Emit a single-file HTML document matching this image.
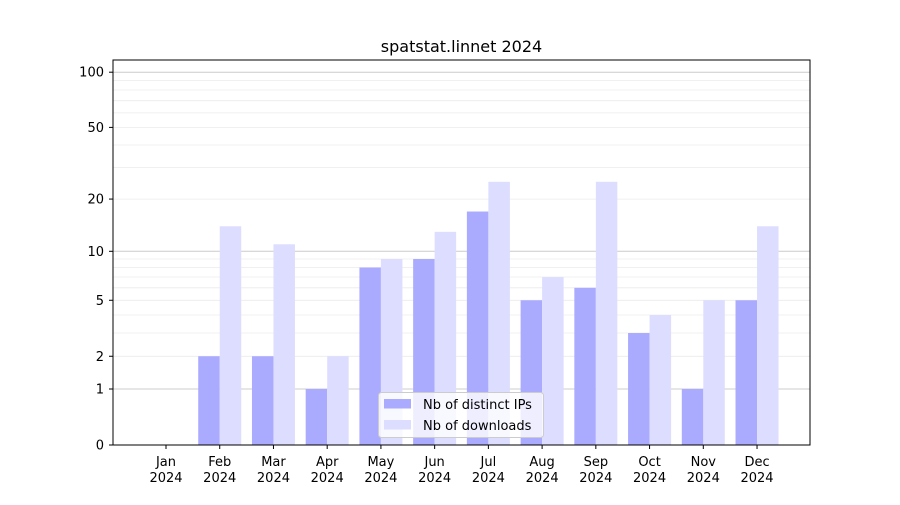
<!DOCTYPE html>
<html><head><meta charset="utf-8"><style>
body{margin:0;background:#fff;}
svg text{font-family:"DejaVu Sans","Liberation Sans",sans-serif;}
</style></head><body>
<svg id="s" width="900" height="500" xmlns="http://www.w3.org/2000/svg"></svg>
<script>
const s=document.getElementById('s');
let h='';
const Y=v=>445-186*Math.log10(1+v);
// minor gridlines
const minors=[2,3,4,5,6,7,8,9,20,30,40,50,60,70,80,90];
for(const v of minors){const y=Y(v).toFixed(1);h+=`<line x1="113" x2="810" y1="${y}" y2="${y}" stroke="#ebebeb" stroke-width="0.8"/>`;}
for(const v of [1,10,100]){const y=Y(v).toFixed(1);h+=`<line x1="113" x2="810" y1="${y}" y2="${y}" stroke="#cccccc" stroke-width="1"/>`;}
const ips=[0,2,2,1,8,9,17,5,6,3,1,5];
const dl=[0,14,11,2,9,13,25,7,25,4,5,14];
const m=['Jan','Feb','Mar','Apr','May','Jun','Jul','Aug','Sep','Oct','Nov','Dec'];
for(let i=0;i<12;i++){
 const c=166+i*53.73;
 if(ips[i]>0){const y=Y(ips[i]);h+=`<rect x="${c-21.5}" y="${y}" width="21.5" height="${445-y}" fill="#aaaaff"/>`;}
 if(dl[i]>0){const y=Y(dl[i]);h+=`<rect x="${c}" y="${y}" width="21.5" height="${445-y}" fill="#ddddff"/>`;}
 h+=`<line x1="${c}" x2="${c}" y1="445" y2="449" stroke="#000"/>`;
 h+=`<text x="${c}" y="466" font-size="13" text-anchor="middle">${m[i]}</text><text x="${c}" y="482" font-size="13" text-anchor="middle">2024</text>`;
}
for(const v of [0,1,2,5,10,20,50,100]){const y=Y(v);h+=`<line x1="109" x2="113" y1="${y}" y2="${y}" stroke="#000"/><text x="104" y="${y+4.5}" font-size="13" text-anchor="end">${v}</text>`;}
h+=`<rect x="113" y="60" width="697" height="385" fill="none" stroke="#000" stroke-width="1"/>`;
h+=`<text x="461.5" y="52" font-size="16" text-anchor="middle">spatstat.linnet 2024</text>`;
h+=`<rect x="378.5" y="392.5" width="165" height="45" rx="3" fill="#fff" fill-opacity="0.8" stroke="#cccccc"/>`;
h+=`<rect x="384" y="399" width="27" height="9.5" fill="#aaaaff"/><text x="423" y="409" font-size="13">Nb of distinct IPs</text>`;
h+=`<rect x="384" y="420" width="27" height="9.5" fill="#ddddff"/><text x="423" y="430" font-size="13">Nb of downloads</text>`;
s.innerHTML=h;
</script>
</body></html>
